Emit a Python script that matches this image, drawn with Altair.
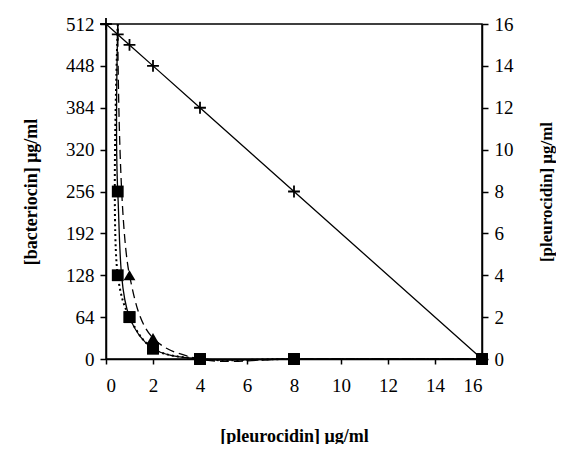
import altair as alt
import pandas as pd

# Additive line (crosses)
cross_x = [0, 0.5, 1, 2, 4, 8, 16]
cross_y = [512, 496, 480, 448, 384, 256, 0]

# Solid curve with squares
sqA_x = [0.5, 0.5, 1, 2, 4, 8, 16]
sqA_y = [512, 256, 64, 16, 0, 0, 0]

# Dotted curve with squares
sqB_x = [0.5, 0.5, 1, 2, 4, 8, 16]
sqB_y = [512, 128, 64, 16, 0, 0, 0]

# Dashed curve with triangles
tri_x = [0.5, 1, 2, 4, 8, 16]
tri_y = [512, 128, 32, 0, 0, 0]

x_ticks = [0, 2, 4, 6, 8, 10, 12, 14, 16]
yl_ticks = [0, 64, 128, 192, 256, 320, 384, 448, 512]
yr_ticks = [0, 2, 4, 6, 8, 10, 12, 14, 16]

def frame(xs, ys):
    return pd.DataFrame({"x": xs, "y": ys, "o": list(range(len(xs)))})

FONT = "Liberation Serif"
xscale = alt.Scale(domain=[0, 16], nice=False)
yscale = alt.Scale(domain=[0, 512], nice=False)

common = dict(grid=False, labelFont=FONT, titleFont=FONT, labelFontSize=19, titleFontWeight="bold",
              labelColor="black", titleColor="black")

xenc = alt.X("x:Q", scale=xscale, axis=alt.Axis(values=x_ticks, title="[pleurocidin] μg/ml", titleFontSize=18,
                                                 tickSize=5, labelPadding=12, titlePadding=32, **common))
yenc = alt.Y("y:Q", scale=yscale, axis=alt.Axis(values=yl_ticks, title="[bacteriocin] μg/ml", titleFontSize=18,
                                                 tickSize=6, labelPadding=6, titlePadding=25, **common))

def line(df, dash=None, width=1.3):
    kw = dict(color="black", strokeWidth=width, interpolate="catmull-rom")
    if dash:
        kw["strokeDash"] = dash
    return alt.Chart(df).mark_line(**kw).encode(x=xenc, y=yenc, order="o:Q")

cross_df = frame(cross_x, cross_y)
sqA_df = frame(sqA_x, sqA_y)
sqB_df = frame(sqB_x, sqB_y)
tri_df = frame(tri_x, tri_y)

cross_line = alt.Chart(cross_df).mark_line(color="black", strokeWidth=1.3).encode(x=xenc, y=yenc, order="o:Q")
cross_pts = alt.Chart(cross_df).mark_point(shape="M-1,0L1,0M0,-1L0,1", filled=False, color="black",
                                           size=140, strokeWidth=1.8, opacity=1).encode(x=xenc, y=yenc)

lineA = line(sqA_df)
lineB = line(sqB_df, dash=[2, 3], width=2)
lineT = line(tri_df, dash=[9, 5])

tri_pts = alt.Chart(tri_df[tri_df["o"] > 0]).mark_point(shape="triangle-up", filled=True, color="black",
                                                      size=140, opacity=1).encode(x=xenc, y=yenc)
sqA_pts = alt.Chart(sqA_df[sqA_df["o"] > 0]).mark_point(shape="square", filled=True, color="black",
                                                      size=140, opacity=1).encode(x=xenc, y=yenc)
sqB_pts = alt.Chart(sqB_df[sqB_df["o"] > 0]).mark_point(shape="square", filled=True, color="black",
                                                      size=140, opacity=1).encode(x=xenc, y=yenc)

left = alt.layer(cross_line, lineA, lineB, lineT, cross_pts, tri_pts, sqA_pts, sqB_pts)

right_df = pd.DataFrame({"x": [0, 16], "r": [0, 16]})
right = alt.Chart(right_df).mark_point(opacity=0).encode(
    x=xenc,
    y=alt.Y("r:Q", scale=alt.Scale(domain=[0, 16], nice=False),
            axis=alt.Axis(values=yr_ticks, orient="right", title="[pleurocidin] μg/ml",
                          titleAngle=270, titleFontSize=17, tickSize=6, labelPadding=6,
                          titlePadding=42, **common)),
)

chart = alt.layer(left, right).resolve_scale(y="independent").properties(
    width=376, height=335,
    autosize=alt.AutoSizeParams(type="none"),
    padding={"left": 98, "top": 16, "right": 74, "bottom": 85},
).configure_view(stroke="black", strokeWidth=1.5).configure_axis(
    domainColor="black", tickColor="black", domainWidth=1.5, tickWidth=1.5,
)

chart.save("out.html", embed_options={"renderer": "svg", "actions": False})
